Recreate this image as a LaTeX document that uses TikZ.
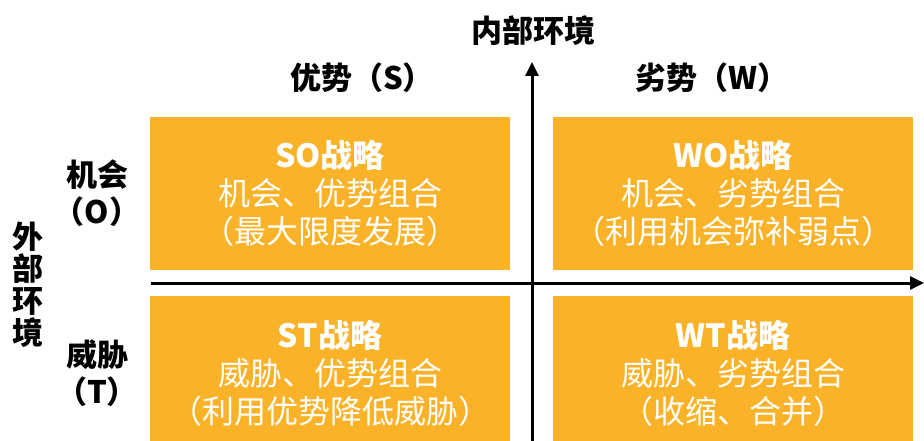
\documentclass[tikz,border=0pt]{standalone}
\usepackage{fontspec}
\usepackage{tikz}
\usetikzlibrary{arrows.meta}
\setmainfont{Noto Sans CJK SC}
\definecolor{swotorange}{RGB}{250,178,40}

\tikzset{
	quad/.style={fill=swotorange, text=white, minimum width=360pt, align=center,
		inner sep=0pt, font=\fontsize{32}{38}\selectfont},
	axis/.style={line width=3pt, -{Triangle[length=14pt,width=13pt]}},
	lbl/.style={align=center, font=\bfseries\fontsize{31}{37}\selectfont}
}

\begin{document}
\begin{tikzpicture}[x=1pt, y=-1pt]
		\useasboundingbox (0,0) rectangle (924,441);

		% Draw the four strategy boxes
		\node[quad, minimum height=153pt] (so) at (330,193.5) {{\bfseries SO战略}\\机会、优势组合\\（最大限度发展）};
		\node[quad, minimum height=153pt] (wo) at (733,193.5) {{\bfseries WO战略}\\机会、劣势组合\\（利用机会弥补弱点）};
		\node[quad, minimum height=155pt] (st) at (330,373.5) {{\bfseries ST战略}\\威胁、优势组合\\（利用优势降低威胁）};
		\node[quad, minimum height=155pt] (wt) at (733,373.5) {{\bfseries WT战略}\\威胁、劣势组合\\（收缩、合并）};

		% Draw the axes
		\coordinate (hstart) at (151,283);
		\coordinate (hend) at (924,283);
		\coordinate (vstart) at (532,441);
		\coordinate (vend) at (532,62);
		\draw[axis] (hstart) -- (hend);
		\draw[axis] (vstart) -- (vend);

		% Labels
		\node[lbl] (inner) at (533,31) {内部环境};
		\node[lbl] (strength) at (362,78) {优势（S）};
		\node[lbl] (weakness) at (712,78) {劣势（W）};
		\node[lbl] (opportunity) at (97,193) {机会\\（O）};
		\node[lbl] (threat) at (97,373) {威胁\\（T）};
		\node[align=center, font=\bfseries\fontsize{31}{32}\selectfont] (outer) at (28,285) {外\\部\\环\\境};
	\end{tikzpicture}
\end{document}
